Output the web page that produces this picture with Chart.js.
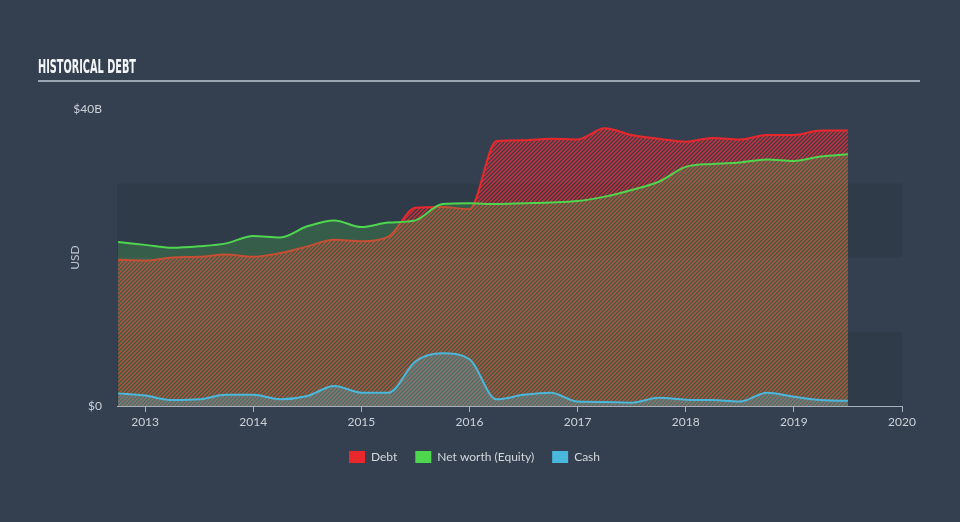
<!DOCTYPE html>
<html>
<head>
<meta charset="utf-8">
<script src="https://cdn.jsdelivr.net/npm/chart.js@4/dist/chart.umd.min.js"></script>
<style>
  html, body { margin: 0; padding: 0; background: #344050; width: 960px; height: 522px; overflow: hidden; }
  #wrap { position: relative; width: 960px; height: 522px; }
  #c { position: absolute; left: 0; top: 0; }
  #title { position: absolute; left: 38px; top: 55px; color: #f2f4f6; font-family: "Liberation Sans Narrow", "DejaVu Sans Condensed", "DejaVu Sans", sans-serif; font-weight: bold; font-size: 19px; white-space: nowrap; transform-origin: 0 0; line-height: 22px; }
  #rule { position: absolute; left: 38px; top: 80px; width: 882px; height: 2px; background: #9aa5b1; }
</style>
</head>
<body>
<div id="wrap">
  <canvas id="c" width="960" height="522"></canvas>
  <div id="title">HISTORICAL DEBT</div>
  <div id="rule"></div>
</div>
<script>
// ---- data (values in billions USD, quarter ends as decimal years) ----
const quarters = [2012.75, 2013.0, 2013.25, 2013.5, 2013.75, 2014.0, 2014.25, 2014.5, 2014.75,
  2015.0, 2015.25, 2015.5, 2015.75, 2016.0, 2016.25, 2016.5, 2016.75, 2017.0, 2017.25, 2017.5,
  2017.75, 2018.0, 2018.25, 2018.5, 2018.75, 2019.0, 2019.25, 2019.5];
const debt = [19.7, 19.6, 20.0, 20.1, 20.4, 20.1, 20.6, 21.5, 22.4, 22.2, 22.8, 26.7, 26.8, 26.5,
  35.7, 35.8, 36.0, 35.9, 37.4, 36.5, 36.0, 35.6, 36.1, 35.9, 36.5, 36.5, 37.1, 37.1];
const equity = [22.1, 21.7, 21.3, 21.5, 21.9, 22.9, 22.7, 24.2, 25.0, 24.1, 24.7, 25.0, 27.2, 27.3,
  27.2, 27.3, 27.4, 27.6, 28.2, 29.1, 30.2, 32.2, 32.6, 32.8, 33.2, 33.0, 33.6, 33.9];
const cash = [1.7, 1.4, 0.8, 0.9, 1.5, 1.5, 0.9, 1.35, 2.7, 1.8, 1.8, 6.0, 7.1, 6.3,
  0.9, 1.5, 1.8, 0.6, 0.55, 0.45, 1.1, 0.85, 0.8, 0.6, 1.8, 1.25, 0.8, 0.7];
const seriesNames = ['Debt', 'Net worth (Equity)', 'Cash'];
const yTickLabels = ['$0', '$40B'];
const yearTicks = [2013, 2014, 2015, 2016, 2017, 2018, 2019, 2020];

// ---- title fit ----
(function () {
  const t = document.getElementById('title');
  const w = t.getBoundingClientRect().width;
  t.style.transform = 'scaleX(' + (98 / w) + ')';
})();

const canvas = document.getElementById('c');
const ctx = canvas.getContext('2d');

// hatch pattern for debt area
const pc = document.createElement('canvas');
pc.width = 4; pc.height = 4;
const pg = pc.getContext('2d');
pg.strokeStyle = 'rgba(240,42,48,0.85)';
pg.lineWidth = 1.5;
pg.beginPath();
pg.moveTo(0, 4); pg.lineTo(4, 0);
pg.moveTo(-1, 1); pg.lineTo(1, -1);
pg.moveTo(3, 5); pg.lineTo(5, 3);
pg.stroke();
const hatch = ctx.createPattern(pc, 'repeat');

const toPts = (arr) => arr.map((v, i) => ({ x: quarters[i], y: v }));

const bandPlugin = {
  id: 'bands',
  beforeDatasetsDraw(chart) {
    const { ctx, chartArea, scales } = chart;
    const y = scales.y;
    ctx.save();
    ctx.fillStyle = 'rgba(20,28,40,0.13)';
    [[0, 10], [20, 30]].forEach(([a, b]) => {
      const top = y.getPixelForValue(b), bot = y.getPixelForValue(a);
      ctx.fillRect(chartArea.left, top, chartArea.right - chartArea.left, bot - top);
    });
    ctx.restore();
  }
};

const tickColor = '#cdd1d7';
const fontFamily = 'Lato, "Open Sans", sans-serif';

new Chart(ctx, {
  type: 'line',
  data: {
    datasets: [
      { label: seriesNames[0], data: toPts(debt), borderColor: '#e8282c', backgroundColor: hatch,
        fill: 'origin', borderWidth: 2, pointRadius: 0, cubicInterpolationMode: 'monotone', order: 3 },
      { label: seriesNames[1], data: toPts(equity), borderColor: '#4fd64f', backgroundColor: 'rgba(76,214,76,0.22)',
        fill: 'origin', borderWidth: 2, pointRadius: 0, cubicInterpolationMode: 'monotone', order: 2 },
      { label: seriesNames[2], data: toPts(cash), borderColor: '#4ab8dc', backgroundColor: 'rgba(74,184,220,0.28)',
        fill: 'origin', borderWidth: 2, pointRadius: 0, cubicInterpolationMode: 'monotone', order: 1 }
    ]
  },
  options: {
    responsive: false,
    animation: false,
    layout: { padding: { left: 47, right: 58, top: 109, bottom: 49 } },
    plugins: {
      tooltip: { enabled: false },
      legend: {
        position: 'bottom',
        labels: {
          boxWidth: 16, boxHeight: 12, padding: 18,
          color: '#d3d7dc',
          font: { family: fontFamily, size: 12 },
          sort: (a, b) => a.datasetIndex - b.datasetIndex,
          generateLabels(chart) {
            const items = Chart.defaults.plugins.legend.labels.generateLabels(chart);
            items.forEach(it => {
              const ds = chart.data.datasets[it.datasetIndex];
              it.fillStyle = ds.borderColor;
              it.strokeStyle = ds.borderColor;
              it.lineWidth = 0;
            });
            return items;
          }
        }
      }
    },
    scales: {
      x: {
        type: 'linear',
        min: 2012.74,
        max: 2020,
        afterFit(scale) { scale.height = 27; },
        afterBuildTicks(scale) { scale.ticks = yearTicks.map(v => ({ value: v })); },
        ticks: {
          color: tickColor, font: { family: fontFamily, size: 12 }, padding: 3,
          maxRotation: 0, autoSkip: false,
          callback: (v) => String(v)
        },
        grid: { drawOnChartArea: false, drawTicks: true, tickLength: 6, color: '#a9b1bc', lineWidth: 1 },
        border: { display: true, color: '#a9b1bc', width: 1 }
      },
      y: {
        min: 0,
        max: 40,
        afterFit(scale) { scale.width = 70; },
        afterBuildTicks(scale) { scale.ticks = [{ value: 0 }, { value: 40 }]; },
        ticks: {
          color: tickColor, font: { family: fontFamily, size: 12 }, padding: 15,
          callback: (v, i) => yTickLabels[i]
        },
        grid: { display: false, drawTicks: false },
        border: { display: false },
        title: { display: true, text: 'USD', color: '#bfc5cc', font: { family: fontFamily, size: 12 }, padding: { top: 21, bottom: 0 } }
      }
    }
  },
  plugins: [bandPlugin]
});
</script>
</body>
</html>
